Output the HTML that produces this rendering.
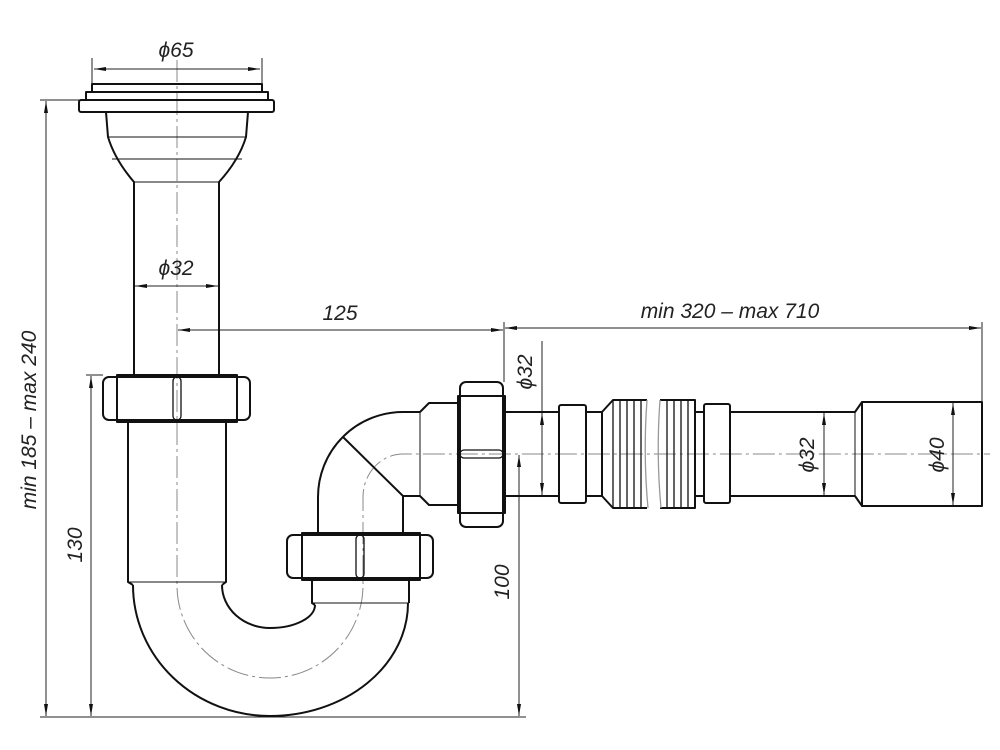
<!DOCTYPE html>
<html><head><meta charset="utf-8"><style>
html,body{margin:0;padding:0;background:#fff}
svg{display:block}
text{font-family:"Liberation Sans",sans-serif;font-style:italic;font-size:21px;fill:#222}
</style></head><body>
<svg width="1000" height="750" viewBox="0 0 1000 750" xmlns="http://www.w3.org/2000/svg">
<defs>
<marker id="a" viewBox="0 0 12 6" refX="12" refY="3" markerWidth="12" markerHeight="6" orient="auto-start-reverse" markerUnits="userSpaceOnUse"><path d="M0,1 L12,3 L0,5z" fill="#111"/></marker>
</defs>
<g stroke="#888" stroke-width="1" fill="none" stroke-dasharray="22,4,3,4">
<path d="M177,60 V585 A93,93 0 0 0 363,585 V497 A40,43 0 0 1 403,454 H990"/>
</g>
<g stroke="#222" stroke-width="1" fill="none">
<line x1="92" y1="58" x2="92" y2="84"/><line x1="262" y1="58" x2="262" y2="84"/>
<line x1="94" y1="69" x2="260" y2="69" marker-start="url(#a)" marker-end="url(#a)"/>
<line x1="135" y1="286" x2="218" y2="286" marker-start="url(#a)" marker-end="url(#a)"/>
<line x1="504" y1="322" x2="504" y2="382"/>
<line x1="178" y1="330" x2="503" y2="330" marker-start="url(#a)" marker-end="url(#a)"/>
<line x1="505" y1="328" x2="981" y2="328" marker-start="url(#a)" marker-end="url(#a)"/>
<line x1="982" y1="322" x2="982" y2="402"/>
<line x1="542" y1="341" x2="542" y2="412"/>
<line x1="542" y1="413" x2="542" y2="495" marker-start="url(#a)" marker-end="url(#a)"/>
<line x1="824" y1="413" x2="824" y2="495" marker-start="url(#a)" marker-end="url(#a)"/>
<line x1="953" y1="403" x2="953" y2="505" marker-start="url(#a)" marker-end="url(#a)"/>
<line x1="519" y1="455" x2="519" y2="716" marker-start="url(#a)" marker-end="url(#a)"/>
<line x1="40" y1="100" x2="80" y2="100"/>
<line x1="46" y1="101" x2="46" y2="716" marker-start="url(#a)" marker-end="url(#a)"/>
<line x1="86" y1="375" x2="103" y2="375"/>
<line x1="91" y1="376" x2="91" y2="716" marker-start="url(#a)" marker-end="url(#a)"/>
<line x1="40" y1="717" x2="526" y2="717"/>
</g>
<g stroke="#111" stroke-width="2" fill="none" stroke-linejoin="round">
<rect x="92" y="84" width="170" height="8"/>
<rect x="86" y="92" width="182" height="8"/>
<rect x="79" y="100" width="195" height="12" rx="2"/>
<path d="M106,112 L108,137 Q115,160 134,182 V375 M248,112 L246,137 Q239,160 219,182 V375"/>
<g stroke-width="1"><line x1="107" y1="137" x2="247" y2="137"/><line x1="112" y1="159" x2="242" y2="159"/><line x1="134" y1="182" x2="219" y2="182"/></g>
<rect x="103" y="377" width="147" height="43" rx="6"/>
<rect x="117" y="375" width="120" height="47"/>
<rect x="173" y="377" width="8" height="43" rx="4" stroke-width="1.3"/>
<path d="M128,422 V582 L133,585 M226,422 V582 L222,585"/>
<line x1="128" y1="582" x2="226" y2="582" stroke-width="1"/>
<path d="M133,585 A137,131 0 0 0 270,716 A138,113 0 0 0 408,603"/>
<path d="M222,585 A48,43 0 0 0 270,628 A45,23 0 0 0 315,605"/>
<path d="M312,580 V603 L315,605 M409,580 V603"/>
<line x1="312" y1="603" x2="409" y2="603" stroke-width="1"/>
<rect x="287" y="535" width="146" height="43" rx="6"/>
<rect x="302" y="533" width="118" height="47"/>
<rect x="356" y="535" width="8" height="43" rx="4" stroke-width="1.3"/>
<path d="M318,533 V497 A85,85 0 0 1 403,412 H420 L429,403 H458"/>
<path d="M403,533 V496 H420 L429,505 H458"/>
<line x1="343" y1="437" x2="403" y2="496"/>
<line x1="420" y1="412" x2="420" y2="496" stroke-width="1"/>
<rect x="460" y="382" width="43" height="145" rx="6"/>
<rect x="458" y="396" width="47" height="117"/>
<rect x="460" y="450" width="43" height="8" rx="4" stroke-width="1.3"/>
<path d="M505,412 H559 M505,496 H559"/>
<rect x="559" y="405" width="27" height="98" rx="2"/>
<path d="M586,412 H602 M586,496 H602"/>
<path d="M602,412 L613,400 H647 M602,496 L613,508 H647 M602,412 V496"/>
<path d="M660,400 H695 V508 H660 M695,412 H704 M695,496 H704"/>
<rect x="704" y="404" width="26" height="99" rx="2"/>
<path d="M730,412 H855 L862,402 H982 V506 H862 L855,496 H730"/>
<line x1="855" y1="412" x2="855" y2="496" stroke-width="1"/>
<line x1="862" y1="402" x2="862" y2="506"/>
</g>
<g stroke="#111" stroke-width="1.3" fill="none">
<path d="M613,400V508M620,400V508M627,400V508M634,400V508M641,400V508"/>
<path d="M667,400V508M674,400V508M681,400V508M688,400V508"/>
<path d="M647,400 Q643,454 648,508 M660,400 Q656,454 661,508" stroke="#999"/>
</g>
<text x="176" y="57" text-anchor="middle">ϕ65</text>
<text x="176" y="275" text-anchor="middle">ϕ32</text>
<text x="340" y="320" text-anchor="middle">125</text>
<text x="730" y="318" text-anchor="middle">min 320 – max 710</text>
<text transform="translate(532,372) rotate(-90)" text-anchor="middle">ϕ32</text>
<text transform="translate(814,455) rotate(-90)" text-anchor="middle">ϕ32</text>
<text transform="translate(944,455) rotate(-90)" text-anchor="middle">ϕ40</text>
<text transform="translate(509,582) rotate(-90)" text-anchor="middle">100</text>
<text transform="translate(82,545) rotate(-90)" text-anchor="middle">130</text>
<text transform="translate(36,420) rotate(-90)" text-anchor="middle">min 185 – max 240</text>
</svg>
</body></html>
